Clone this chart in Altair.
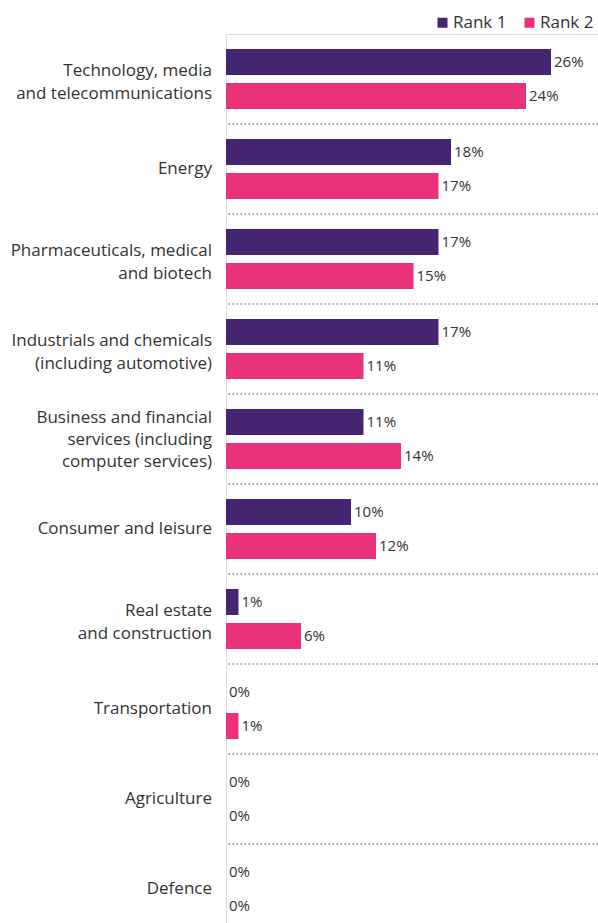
import altair as alt
import pandas as pd

categories = [
    "Technology, media\nand telecommunications",
    "Energy",
    "Pharmaceuticals, medical\nand biotech",
    "Industrials and chemicals\n(including automotive)",
    "Business and financial\nservices (including\ncomputer services)",
    "Consumer and leisure",
    "Real estate\nand construction",
    "Transportation",
    "Agriculture",
    "Defence",
]
ranks = ["Rank 1", "Rank 2"]
rank1_values = [26, 18, 17, 17, 11, 10, 1, 0, 0, 0]
rank2_values = [24, 17, 15, 11, 14, 12, 6, 1, 0, 0]

PURPLE = "#45256f"
PINK = "#e9327a"
TEXT = "#333333"
FONT = "Open Sans"

rows = []
for c, v1, v2 in zip(categories, rank1_values, rank2_values):
    rows.append({"category": c, "rank": ranks[0], "value": v1, "label": f"{v1}%"})
    rows.append({"category": c, "rank": ranks[1], "value": v2, "label": f"{v2}%"})
df = pd.DataFrame(rows)
cat_df = pd.DataFrame({"category": categories,
                       "nlines": [c.count("\n") + 1 for c in categories]})
sep_df = pd.DataFrame({"category": categories[:-1]})

yscale = alt.Scale(range=[0, 900], paddingInner=0, paddingOuter=0)
xscale = alt.Scale(domain=[0, 29.76], nice=False, zero=True)


def Y(**kw):
    return alt.Y("category:N", sort=categories, scale=yscale, title=None, **kw)


yoff = alt.YOffset("rank:N", sort=ranks,
                   scale=alt.Scale(paddingInner=0.235, paddingOuter=0.441))

seps = alt.Chart(sep_df).mark_rule(
    color="#888888", strokeDash=[1.5, 2.5], strokeWidth=1.5
).encode(y=Y(bandPosition=1, axis=None))

bars = alt.Chart(df).mark_bar().encode(
    y=Y(axis=alt.Axis(labels=False, ticks=False, grid=False, domain=True,
                      domainColor="black", domainWidth=3)),
    yOffset=yoff,
    x=alt.X("value:Q", scale=xscale, axis=None),
    color=alt.Color(
        "rank:N",
        scale=alt.Scale(domain=ranks, range=[PURPLE, PINK]),
        legend=alt.Legend(
            orient="none", legendX=208, legendY=-20, direction="horizontal",
            title=None, symbolType="square", symbolSize=100,
            symbolStrokeWidth=0, labelFontSize=17, labelFont=FONT,
            labelColor=TEXT, labelOffset=2, columnPadding=14,
        ),
    ),
)

values = alt.Chart(df).mark_text(
    align="left", baseline="middle", dx=3, fontSize=15, font=FONT, color=TEXT
).encode(
    y=Y(axis=None),
    yOffset=yoff,
    x=alt.X("value:Q", scale=xscale, axis=None),
    text="label:N",
)

label_layers = []
for n, dy, lh in [(1, 0, 23), (2, -8, 23), (3, -21, 22)]:
    label_layers.append(
        alt.Chart(cat_df).transform_filter(alt.datum.nlines == n).mark_text(
            align="right", baseline="middle", lineBreak="\n", lineHeight=lh,
            dy=dy, fontSize=17, font=FONT, color=TEXT
        ).encode(
            y=Y(axis=None),
            x=alt.value(-14),
            text="category:N",
        )
    )

chart = alt.layer(seps, bars, values, *label_layers).properties(
    width=372, height=889,
    autosize=alt.AutoSizeParams(type="none"),
    padding={"left": 226, "right": 0, "top": 34, "bottom": 0},
).configure_view(stroke=None).configure(background="white")

chart.save("out.html", embed_options={"renderer": "svg", "actions": False})
